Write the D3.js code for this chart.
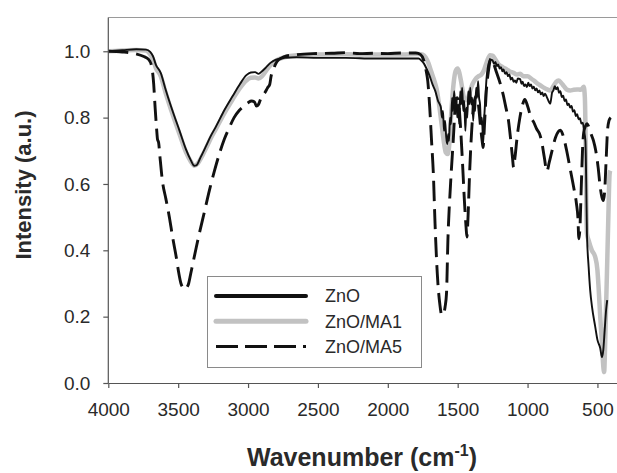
<!DOCTYPE html>
<html>
<head>
<meta charset="utf-8">
<title>FTIR spectra ZnO</title>
<style>
body {
  margin: 0;
  padding: 0;
  background: #fff;
}
svg text {
  font-family: "Liberation Sans", Arial, sans-serif;
  fill: #2a2a2a;
}
</style>
<script src="https://d3js.org/d3.v7.min.js"></script>
</head>
<body>
<svg id="chart" width="617" height="473"></svg>
<script>
// series as [wavenumber, intensity]
const zno = [[4000,1.0],[3900,1.003],[3800,1.006],[3730,1.005],[3700,0.998],[3680,0.985],[3660,0.96],[3625,0.935],[3590,0.885],[3540,0.82],[3490,0.76],[3445,0.705],[3410,0.672],[3385,0.655],[3370,0.656],[3340,0.68],[3300,0.715],[3270,0.742],[3227,0.775],[3170,0.822],[3110,0.865],[3060,0.9],[3012,0.928],[2980,0.936],[2950,0.937],[2925,0.932],[2900,0.94],[2870,0.952],[2840,0.965],[2800,0.975],[2740,0.98],[2650,0.982],[2500,0.98],[2300,0.98],[2100,0.978],[1900,0.978],[1780,0.978],[1760,0.972],[1740,0.962],[1720,0.945],[1700,0.925],[1680,0.9],[1660,0.88],[1640,0.85],[1628,0.84],[1620,0.83],[1612,0.8],[1605,0.82],[1598,0.76],[1590,0.79],[1582,0.74],[1575,0.72],[1568,0.75],[1562,0.73],[1555,0.8],[1548,0.78],[1540,0.86],[1533,0.82],[1525,0.88],[1518,0.84],[1510,0.86],[1503,0.8],[1496,0.84],[1489,0.78],[1482,0.88],[1475,0.84],[1468,0.89],[1460,0.82],[1453,0.85],[1445,0.76],[1438,0.83],[1431,0.8],[1424,0.88],[1417,0.84],[1410,0.89],[1403,0.84],[1396,0.86],[1389,0.79],[1382,0.85],[1375,0.82],[1368,0.89],[1361,0.86],[1354,0.91],[1347,0.86],[1340,0.84],[1333,0.78],[1326,0.8],[1318,0.72],[1310,0.8],[1302,0.86],[1295,0.91],[1285,0.95],[1265,0.975],[1250,0.972],[1240,0.962],[1230,0.968],[1220,0.955],[1210,0.96],[1200,0.948],[1190,0.952],[1180,0.94],[1172,0.945],[1160,0.932],[1150,0.937],[1140,0.925],[1130,0.93],[1120,0.915],[1110,0.92],[1100,0.908],[1090,0.912],[1080,0.905],[1070,0.918],[1053,0.916],[1043,0.902],[1035,0.908],[1025,0.895],[1015,0.9],[1005,0.892],[995,0.905],[985,0.895],[975,0.9],[965,0.888],[955,0.893],[945,0.882],[935,0.888],[925,0.876],[915,0.882],[905,0.87],[895,0.876],[885,0.865],[875,0.872],[862,0.862],[850,0.85],[838,0.842],[830,0.86],[825,0.875],[815,0.882],[805,0.895],[795,0.885],[785,0.892],[775,0.875],[765,0.88],[755,0.862],[745,0.866],[735,0.85],[725,0.855],[715,0.838],[705,0.842],[695,0.83],[685,0.835],[675,0.818],[665,0.822],[655,0.805],[645,0.81],[635,0.795],[625,0.798],[615,0.782],[605,0.785],[596,0.76],[586,0.73],[580,0.6],[575,0.45],[563,0.35],[552,0.28],[539,0.23],[516,0.17],[500,0.13],[480,0.105],[468,0.078],[458,0.1],[448,0.16],[438,0.22],[430,0.25]];

const znoMA1 = [[4000,1.0],[3900,1.002],[3800,1.004],[3730,1.002],[3700,0.99],[3680,0.975],[3660,0.95],[3625,0.925],[3590,0.875],[3540,0.81],[3490,0.75],[3445,0.697],[3410,0.668],[3385,0.655],[3360,0.662],[3330,0.683],[3300,0.708],[3270,0.735],[3227,0.768],[3170,0.813],[3110,0.855],[3060,0.888],[3012,0.912],[2980,0.92],[2950,0.921],[2925,0.918],[2900,0.925],[2870,0.942],[2840,0.958],[2800,0.972],[2740,0.982],[2650,0.988],[2500,0.99],[2300,0.991],[2100,0.99],[1900,0.99],[1780,0.992],[1750,0.99],[1730,0.982],[1710,0.965],[1690,0.94],[1670,0.915],[1650,0.885],[1630,0.83],[1615,0.78],[1600,0.73],[1585,0.695],[1570,0.69],[1558,0.73],[1545,0.82],[1530,0.9],[1515,0.94],[1500,0.948],[1488,0.935],[1472,0.9],[1458,0.865],[1445,0.852],[1430,0.855],[1415,0.875],[1395,0.9],[1375,0.915],[1350,0.925],[1330,0.93],[1310,0.945],[1290,0.97],[1268,0.988],[1250,0.987],[1230,0.975],[1210,0.962],[1190,0.955],[1160,0.948],[1130,0.94],[1100,0.935],[1075,0.93],[1053,0.932],[1030,0.925],[1000,0.925],[975,0.918],[950,0.91],[920,0.9],[890,0.892],[860,0.885],[838,0.882],[815,0.895],[795,0.908],[778,0.912],[760,0.905],[740,0.895],[720,0.885],[695,0.882],[670,0.884],[645,0.885],[620,0.884],[605,0.89],[598,0.893],[590,0.86],[586,0.78],[580,0.55],[575,0.45],[563,0.43],[540,0.4],[516,0.38],[500,0.34],[492,0.29],[480,0.2],[468,0.12],[458,0.05],[452,0.033],[446,0.1],[440,0.2],[432,0.33],[422,0.5],[413,0.63],[408,0.64]];

const znoMA5 = [[4000,1.0],[3900,0.998],[3800,0.992],[3750,0.985],[3710,0.975],[3690,0.955],[3675,0.9],[3665,0.83],[3655,0.77],[3648,0.735],[3640,0.725],[3630,0.68],[3613,0.61],[3588,0.555],[3563,0.5],[3540,0.44],[3514,0.38],[3495,0.33],[3480,0.3],[3465,0.287],[3450,0.282],[3435,0.29],[3425,0.3],[3410,0.33],[3395,0.36],[3370,0.41],[3349,0.45],[3310,0.52],[3277,0.58],[3240,0.64],[3206,0.69],[3170,0.735],[3134,0.77],[3100,0.8],[3062,0.822],[3030,0.835],[3000,0.845],[2975,0.85],[2955,0.848],[2940,0.835],[2925,0.84],[2905,0.862],[2880,0.875],[2860,0.89],[2845,0.9],[2835,0.925],[2815,0.95],[2795,0.968],[2760,0.98],[2725,0.986],[2650,0.99],[2535,0.993],[2400,0.994],[2300,0.996],[2200,0.993],[2100,0.994],[2000,0.993],[1900,0.995],[1800,0.995],[1765,0.99],[1745,0.975],[1725,0.94],[1714,0.91],[1700,0.83],[1687,0.73],[1674,0.63],[1662,0.48],[1646,0.33],[1627,0.235],[1614,0.205],[1600,0.21],[1590,0.23],[1580,0.27],[1570,0.43],[1551,0.6],[1532,0.73],[1518,0.83],[1505,0.86],[1492,0.84],[1478,0.76],[1465,0.66],[1452,0.55],[1440,0.47],[1434,0.44],[1426,0.5],[1415,0.63],[1400,0.76],[1385,0.84],[1368,0.865],[1352,0.84],[1338,0.78],[1325,0.73],[1318,0.71],[1308,0.78],[1295,0.88],[1280,0.94],[1262,0.978],[1245,0.965],[1225,0.94],[1197,0.905],[1175,0.87],[1155,0.83],[1136,0.79],[1120,0.73],[1108,0.68],[1100,0.65],[1090,0.68],[1075,0.74],[1055,0.8],[1035,0.84],[1020,0.855],[1000,0.835],[975,0.8],[957,0.787],[934,0.765],[915,0.752],[900,0.73],[880,0.68],[862,0.638],[845,0.665],[825,0.7],[800,0.74],[780,0.758],[765,0.762],[745,0.745],[720,0.7],[695,0.645],[670,0.59],[650,0.54],[640,0.5],[633,0.435],[625,0.47],[615,0.6],[605,0.72],[598,0.755],[585,0.775],[575,0.782],[560,0.77],[545,0.75],[528,0.73],[512,0.7],[495,0.65],[480,0.59],[468,0.56],[458,0.55],[448,0.58],[438,0.67],[428,0.76],[418,0.79],[405,0.8]];

const xTicks = [4000, 3500, 3000, 2500, 2000, 1500, 1000, 500];
const yTicks = [0.0, 0.2, 0.4, 0.6, 0.8, 1.0];
const legendNames = ["ZnO", "ZnO/MA1", "ZnO/MA5"];

const svg = d3.select("#chart");

const x = d3.scaleLinear().domain([4000, 350]).range([108.3, 618.4]);
const y = d3.scaleLinear().domain([0, 1.1]).range([383, 18.1]);

const line = d3.line()
  .x(d => x(d[0]))
  .y(d => y(d[1]))
  .curve(d3.curveMonotoneX);

// top frame line
svg.append("line")
  .attr("x1", 108.3).attr("x2", 617)
  .attr("y1", 17.5).attr("y2", 17.5)
  .attr("stroke", "#9a9a9a").attr("stroke-width", 1.2);

// series
svg.append("path").datum(znoMA1)
  .attr("d", line)
  .attr("fill", "none")
  .attr("stroke", "#c2c2c2")
  .attr("stroke-width", 4.5)
  .attr("stroke-linejoin", "round");

svg.append("path").datum(zno)
  .attr("d", line)
  .attr("fill", "none")
  .attr("stroke", "#111")
  .attr("stroke-width", 1.9)
  .attr("stroke-linejoin", "round");

svg.append("path").datum(znoMA5)
  .attr("d", line)
  .attr("fill", "none")
  .attr("stroke", "#111")
  .attr("stroke-width", 2.9)
  .attr("stroke-dasharray", "20,8");

// axes
const xAxis = svg.append("g")
  .attr("transform", "translate(0,383)")
  .call(d3.axisBottom(x).tickValues(xTicks).tickFormat(d3.format("d"))
    .tickSize(5).tickSizeOuter(0).tickPadding(15));

const yAxis = svg.append("g")
  .attr("transform", "translate(108.3,0)")
  .call(d3.axisLeft(y).tickValues(yTicks).tickFormat(d3.format(".1f"))
    .tickSize(5).tickSizeOuter(0).tickPadding(13));

[xAxis, yAxis].forEach(g => {
  g.select(".domain").attr("stroke", "#555").attr("stroke-width", 1.2);
  g.selectAll(".tick line").attr("stroke", "#555").attr("stroke-width", 1.2);
  g.selectAll(".tick text")
    .style("font-family", "'Liberation Sans', Arial, sans-serif")
    .style("font-size", "19px")
    .attr("fill", "#2a2a2a");
});
// y domain should stop at the top frame
yAxis.select(".domain").attr("d", "M0," + y(0) + "V17.5");

// axis titles
const xt = svg.append("text")
  .attr("x", 362)
  .attr("y", 466)
  .attr("text-anchor", "middle")
  .style("font-size", "25px")
  .style("font-weight", "bold");
xt.append("tspan").text("Wavenumber (cm");
xt.append("tspan").attr("dy", -10).style("font-size", "16px").text("-1");
xt.append("tspan").attr("dy", 10).text(")");

svg.append("text")
  .attr("transform", "translate(31,185) rotate(-90)")
  .attr("text-anchor", "middle")
  .style("font-size", "22px")
  .style("font-weight", "bold")
  .text("Intensity (a.u.)");

// legend
const lg = svg.append("g");
lg.append("rect")
  .attr("x", 207.5).attr("y", 276.5)
  .attr("width", 214).attr("height", 91)
  .attr("fill", "#fff")
  .attr("stroke", "#8a8a8a").attr("stroke-width", 1);

const legendStyle = [
  {stroke: "#111", width: 4, dash: null},
  {stroke: "#c2c2c2", width: 5, dash: null},
  {stroke: "#111", width: 3, dash: "22,7"}
];
const legendY = d3.scalePoint().domain(legendNames).range([296, 346.5]);

legendNames.forEach((name, i) => {
  const s = legendStyle[i];
  lg.append("line")
    .attr("x1", 216).attr("x2", 306)
    .attr("y1", legendY(name)).attr("y2", legendY(name))
    .attr("stroke", s.stroke)
    .attr("stroke-width", s.width)
    .attr("stroke-linecap", s.dash ? "butt" : "round")
    .attr("stroke-dasharray", s.dash);
  lg.append("text")
    .attr("x", 325)
    .attr("y", legendY(name))
    .attr("dy", "0.36em")
    .style("font-size", "18px")
    .text(name);
});
</script>
</body>
</html>
